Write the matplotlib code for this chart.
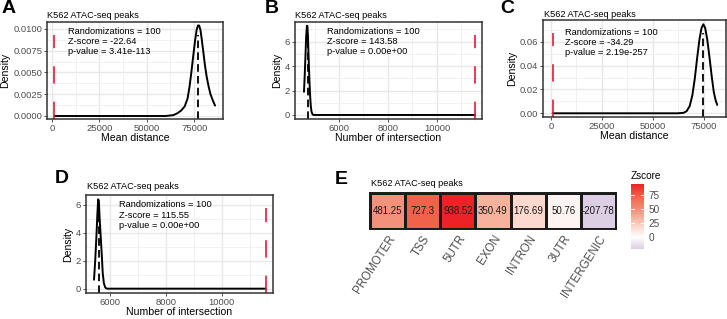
import numpy as np
import matplotlib
matplotlib.use("Agg")
import matplotlib.pyplot as plt
from matplotlib.colors import LinearSegmentedColormap, Normalize
from matplotlib.ticker import AutoMinorLocator, FormatStrFormatter

plt.rcParams['font.family'] = ['Liberation Sans', 'DejaVu Sans']
plt.rcParams['lines.scale_dashes'] = False

W, H = 727, 319
title = "K562 ATAC-seq peaks"

# A: mean distance, permuted density
a_x = [1200, 60000, 64000, 66000, 68000, 70000, 71500, 72500, 73500, 74500, 75500, 76300,
       77000, 77600, 78300, 79000, 79800, 80700, 81600, 82600, 83600, 84800, 86000]
a_y = [0, 0, 0.0001, 0.0003, 0.0006, 0.0011, 0.0020, 0.0033, 0.0050, 0.0069, 0.0087, 0.0099,
       0.0104, 0.0104, 0.0099, 0.0088, 0.0074, 0.0058, 0.0045, 0.0034, 0.0025, 0.0018, 0.0012]
a_obs, a_mean = 1200, 77200
a_stats = ["Randomizations = 100", "Z-score = -22.64", "p-value = 3.41e-113"]

# B: number of intersection
b_x = [4571, 4600, 4630, 4660, 4690, 4710, 4735, 4760, 4790, 4820, 4850, 4880, 4920, 4970, 11550]
b_y = [1.9, 3.2, 4.8, 6.4, 7.3, 7.3, 6.3, 4.7, 3.0, 1.6, 0.7, 0.25, 0.05, 0, 0]
b_obs, b_mean = 11550, 4720
b_stats = ["Randomizations = 100", "Z-score = 143.58", "p-value = 0.00e+00"]

# C: mean distance
c_x = [800, 62000, 65000, 66500, 68000, 69300, 70500, 71700, 72800, 73800, 74700, 75600,
       76600, 77700, 78800, 79800, 80700, 81500]
c_y = [0, 0, 0.0004, 0.0018, 0.0060, 0.0150, 0.0290, 0.0470, 0.0620, 0.0715, 0.0746, 0.0715,
       0.0620, 0.0470, 0.0310, 0.0180, 0.0110, 0.0070]
c_obs, c_mean = 800, 74700
c_stats = ["Randomizations = 100", "Z-score = -34.29", "p-value = 2.19e-257"]

# D: number of intersection
d_x = [5427, 5470, 5510, 5545, 5575, 5600, 5630, 5665, 5703, 5740, 5780, 5830, 5890, 11591]
d_y = [0.64, 2.0, 3.6, 5.2, 6.4, 6.3, 5.0, 3.8, 2.5, 1.1, 0.4, 0.08, 0, 0]
d_obs, d_mean = 11591, 5590
d_stats = ["Randomizations = 100", "Z-score = 115.55", "p-value = 0.00e+00"]

# E: heatmap
regions = ["PROMOTER", "TSS", "5UTR", "EXON", "INTRON", "3UTR", "INTERGENIC"]
cell_text = ["481.25", "727.3", "938.52", "350.49", "176.69", "50.76", "-207.78"]
zscore = [48.1, 72.7, 93.9, 35.0, 17.7, 5.1, -20.8]
cbar_ticks = [0, 25, 50, 75]

fig = plt.figure(figsize=(W / 100, H / 100), dpi=100)


def rect(x0, y0, x1, y1):
    return [x0 / W, 1 - y1 / H, (x1 - x0) / W, (y1 - y0) / H]


def ftext(x, y, s, **kw):
    fig.text(x / W, 1 - y / H, s, **kw)


def density_panel(r, xs, ys, obs, mean, xlim, ylim, xticks, yticks, yfmt, xlabel, stats, tx, ty):
    ax = fig.add_axes(r)
    ax.set_xlim(*xlim)
    ax.set_ylim(*ylim)
    ax.set_xticks(xticks)
    ax.set_yticks(yticks)
    ax.yaxis.set_major_formatter(FormatStrFormatter(yfmt))
    ax.xaxis.set_minor_locator(AutoMinorLocator(2))
    ax.yaxis.set_minor_locator(AutoMinorLocator(2))
    ax.grid(which='major', color='#E8E8E8', lw=1.0)
    ax.grid(which='minor', color='#EFEFEF', lw=0.6)
    ax.set_axisbelow(True)
    for s in ax.spines.values():
        s.set_color('#333333')
        s.set_linewidth(1.1)
    ax.tick_params(which='major', length=2.5, width=0.6, color='#333333',
                   labelsize=6.8, labelcolor='#4D4D4D', pad=1)
    ax.tick_params(which='minor', length=0)
    top = 0.9 * max(ys)
    ax.plot(xs, ys, color='black', lw=1.4, solid_capstyle='round')
    ax.plot([mean, mean], [ylim[0], top], color='black', lw=1.3, dashes=(5.5, 3))
    ax.plot([obs, obs], [ylim[0], top], color='#E31A3C', lw=1.2, dashes=(12.5, 13))
    ax.set_xlabel(xlabel, fontsize=7.6, labelpad=0)
    ax.set_ylabel("Density", fontsize=7.6, labelpad=2)
    for i, s in enumerate(stats):
        ax.text(tx, ty - i * 0.103, s, transform=ax.transAxes, fontsize=6.7, va='center')
    return ax


density_panel(rect(47, 22, 223, 119), a_x, a_y, a_obs, a_mean, (-2640, 90200), (-0.000345, 0.0108),
              [0, 25000, 50000, 75000], [0, 0.0025, 0.005, 0.0075, 0.01], '%.4f',
              "Mean distance", a_stats, 0.12, 0.905)
density_panel(rect(295, 22, 482, 119), b_x, b_y, b_obs, b_mean, (4204, 11837), (-0.33, 7.61),
              [6000, 8000, 10000], [0, 2, 4, 6], '%d',
              "Number of intersection", b_stats, 0.17, 0.905)
density_panel(rect(543, 20, 726, 117), c_x, c_y, c_obs, c_mean, (-3900, 85800), (-0.0031, 0.0782),
              [0, 25000, 50000, 75000], [0, 0.02, 0.04, 0.06], '%.2f',
              "Mean distance", c_stats, 0.12, 0.873)
density_panel(rect(86, 195, 273, 293), d_x, d_y, d_obs, d_mean, (5140, 11842), (-0.31, 6.71),
              [6000, 8000, 10000], [0, 2, 4, 6], '%d',
              "Number of intersection", d_stats, 0.176, 0.898)

# heatmap, diverging fill around zero
cmap = LinearSegmentedColormap.from_list(
    'zs', [(0, '#6A3D9A'), (0.389, '#DCCFE4'), (0.5, '#FFFFFF'), (0.594, '#FBDACF'),
           (0.686, '#F6B29D'), (0.756, '#F3927A'), (0.887, '#F0644B'), (1, '#EC2227')])
zmax = max(abs(v) for v in zscore)
norm = Normalize(-zmax, zmax)

axh = fig.add_axes(rect(370, 193, 616, 229))
axh.pcolormesh(np.arange(len(regions) + 1), [0, 1], np.array([zscore]), cmap=cmap, norm=norm,
               edgecolors='#1A1A1A', linewidth=0.9)
for i, t in enumerate(cell_text):
    axh.text(i + 0.5, 0.5, t, ha='center', va='center', fontsize=7, color='#1A1A1A')
axh.set_xlim(0, len(regions))
axh.set_ylim(0, 1)
axh.set_yticks([])
axh.set_xticks(np.arange(len(regions)) + 0.5)
axh.set_xticklabels(regions, rotation=57, ha='right', va='top', rotation_mode='anchor',
                    fontsize=8.3, color='#4D4D4D')
axh.tick_params(axis='x', length=0, pad=3)
for s in axh.spines.values():
    s.set_color('#1A1A1A')
    s.set_linewidth(1.4)

# colorbar
cax = fig.add_axes(rect(631, 184, 644, 249))
zlo, zhi = min(zscore), max(zscore)
grad = np.linspace(zlo, zhi, 256)[:, None]
cax.imshow(grad, cmap=cmap, norm=norm, aspect='auto', origin='lower', extent=[0, 1, zlo, zhi])
cax.set_xlim(0, 1)
cax.set_ylim(zlo, zhi)
cax.set_xticks([])
cax.yaxis.tick_right()
cax.set_yticks(cbar_ticks)
cax.tick_params(axis='y', length=0, labelsize=7.2, labelcolor='#4D4D4D', pad=3)
for v in cbar_ticks:
    cax.plot([0, 0.2], [v, v], color='white', lw=0.7)
    cax.plot([0.8, 1], [v, v], color='white', lw=0.7)
for s in cax.spines.values():
    s.set_visible(False)
ftext(631, 176.5, "Zscore", fontsize=7.2, va='center')

# titles and panel letters
for x, y in [(47, 15.5), (295, 15.5), (544, 14.5), (87, 187), (371, 183)]:
    ftext(x, y, title, fontsize=6.6, va='center')
for x, y, s in [(2, 8.5, 'A'), (265, 8.5, 'B'), (500, 8.5, 'C'), (55, 178.5, 'D'), (335, 179, 'E')]:
    ftext(x, y, s, fontsize=14, fontweight='bold', va='center')

fig.savefig('out.png', dpi=100)
